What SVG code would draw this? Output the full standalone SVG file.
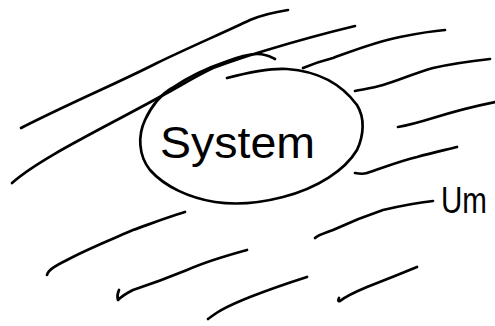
<svg xmlns="http://www.w3.org/2000/svg" width="495" height="326" viewBox="0 0 495 326">
<style>
.s{fill:none;stroke:#000;stroke-width:2.7;stroke-linecap:round;stroke-linejoin:round}
.t{font-family:"Liberation Sans",Arial,sans-serif;fill:#000}
</style>
<rect width="495" height="326" fill="#fff"/>
<g id="hatching">
<path class="s" d="M21,128 C70,103 120,82 157,63 C190,47 225,32 250,20 C262,15 275,12 288,10"/>
<path class="s" d="M12,183 C40,158 100,130 167,93 C185,83 198,75 213,68 C235,60 250,55 267,50 C300,40 330,32 355,26"/>
<path class="s" d="M303,68 C315,63 325,60 333,58 C355,50 375,42 400,37 C420,33 432,31 445,30"/>
<path class="s" d="M355,91 C365,89 373,88 383,85 C400,80 415,73 433,68 C455,63 472,61 490,59"/>
<path class="s" d="M398,127 C410,125 420,122 433,118 C455,111 475,106 495,102"/>
<path class="s" d="M355,173 C360,174 364,174 367,173 C385,167 400,161 417,157 C432,153 445,150 457,147"/>
<path class="s" d="M185,212 C165,218 150,224 133,230 C110,240 85,250 67,260 C55,266 48,270 47,275"/>
<path class="s" d="M433,201 C415,203 400,206 383,210 C365,216 348,223 333,230 C325,233 318,235 315,238"/>
<path class="s" d="M247,250 C225,256 205,262 187,270 C170,277 148,285 133,290 C125,294 120,298 118,300 C117,296 118,292 119,290"/>
<path class="s" d="M307,277 C285,284 268,290 250,297 C235,303 222,309 215,314 C211,317 209,318 208,319"/>
<path class="s" d="M417,267 C400,274 385,280 367,287 C355,292 345,297 340,301 C338,302 338,300 339,298"/>
</g>
<g id="system">
<path class="s" d="M227,78 C250,72 270,68 287,69 C315,71 340,82 357,105 C365,118 364,135 357,150 C345,170 318,188 283,197 C260,203 235,205 215,202 C190,198 165,187 150,170 C138,155 138,135 145,120 C152,105 160,95 172,88 C190,76 207,68 225,62 C240,56 255,52 265,55 C270,56 273,58 275,59"/>
<text class="t" x="160" y="158" font-size="44" textLength="155" lengthAdjust="spacingAndGlyphs">System</text>
</g>
<g id="environment">
<text class="t" x="441" y="213" font-size="36" textLength="46" lengthAdjust="spacingAndGlyphs">Um</text>
</g>
</svg>
